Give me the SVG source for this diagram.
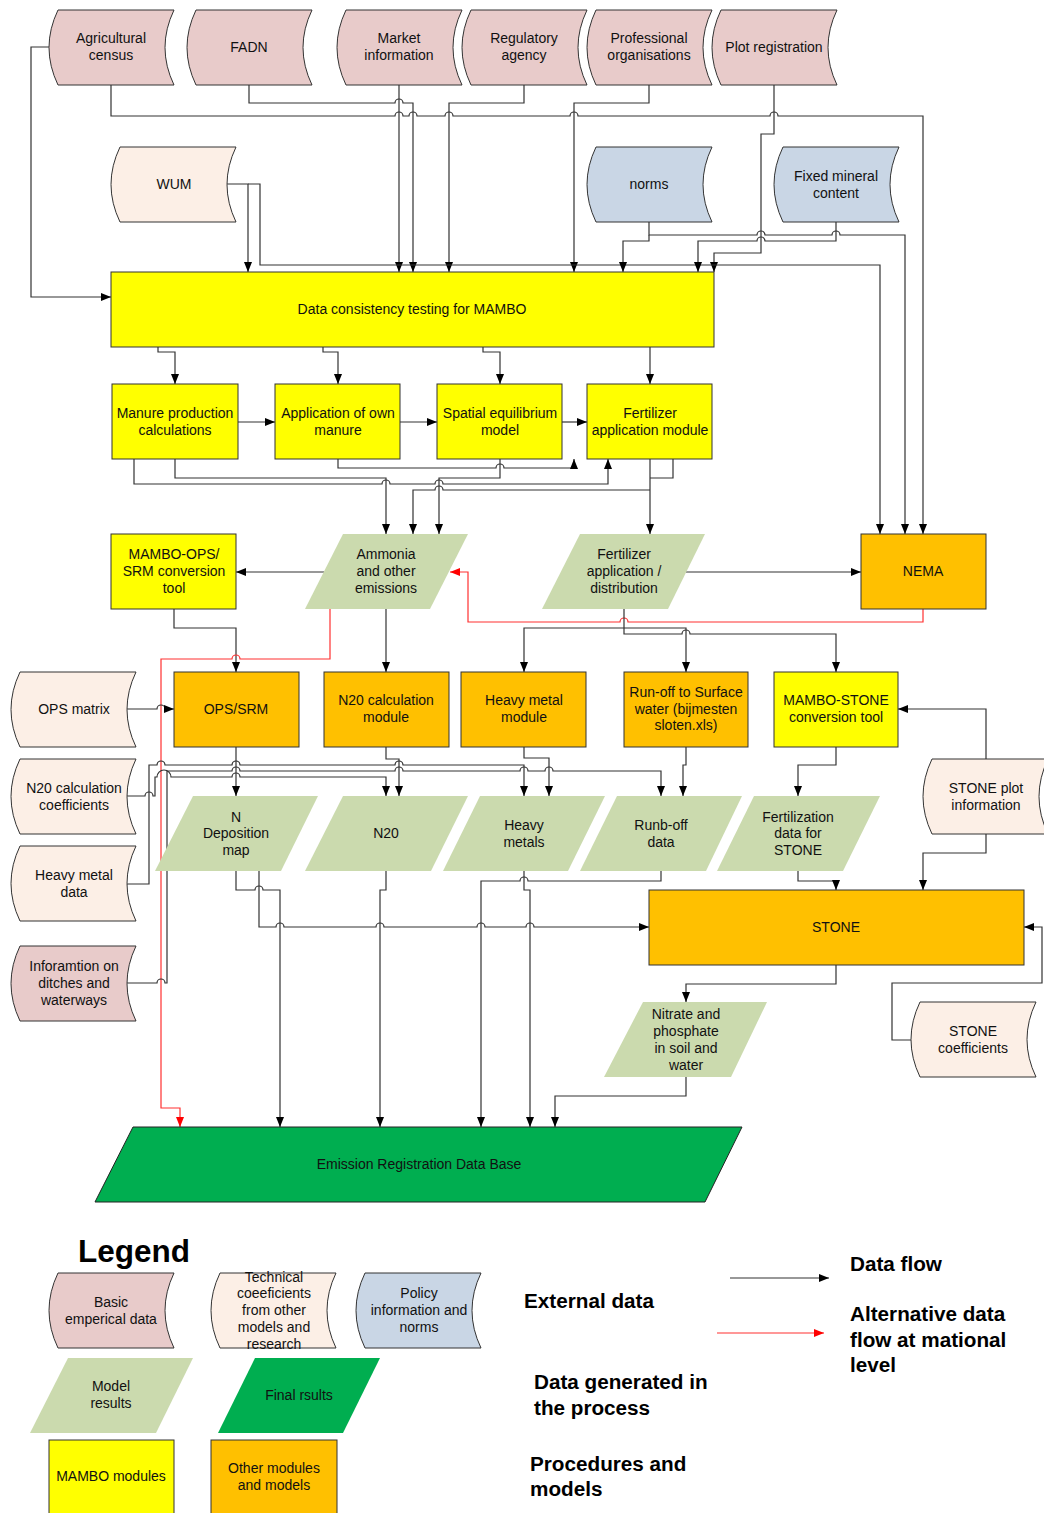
<svg xmlns="http://www.w3.org/2000/svg" width="1044" height="1513" viewBox="0 0 1044 1513">
<style>
.pink{fill:#e8cbca;stroke:#333;stroke-width:1}
.peach{fill:#fcefe6;stroke:#333;stroke-width:1}
.blue{fill:#c9d6e5;stroke:#333;stroke-width:1}
.yellow{fill:#ffff00;stroke:#333;stroke-width:1}
.orange{fill:#ffc000;stroke:#333;stroke-width:1}
.lgreen{fill:#cbdaae;stroke:none}
.dgreen{fill:#00ae50;stroke:#222;stroke-width:1}
text{font-family:"Liberation Sans",Arial,sans-serif;font-size:14px;fill:#111;text-anchor:middle}
text.b{font-weight:bold;text-anchor:start;font-size:20.7px;fill:#000}
.c{fill:none;stroke:#333;stroke-width:1.2}
.a{marker-end:url(#ah)}
.r{fill:none;stroke:#ff3030;stroke-width:1.2}
.ra{marker-end:url(#ahr)}
</style>
<defs>
<marker id="ah" markerUnits="userSpaceOnUse" markerWidth="10" markerHeight="10" refX="10" refY="5" orient="auto" viewBox="0 0 10 10"><path d="M0,1 L10,5 L0,9 z" fill="#000"/></marker>
<marker id="ahr" markerUnits="userSpaceOnUse" markerWidth="10" markerHeight="10" refX="10" refY="5" orient="auto" viewBox="0 0 10 10"><path d="M0,1 L10,5 L0,9 z" fill="#f00"/></marker>
</defs>
<rect width="1044" height="1513" fill="#fff"/>

<g id="connectors">
<path class="c a" d="M49,47 H31 V297 H111"/>
<path class="c a" d="M111,85 V116 H395 A4,4 0 0 1 403,116 H409 A4,4 0 0 1 417,116 H445 A4,4 0 0 1 453,116 H570 A4,4 0 0 1 578,116 H770 A4,4 0 0 1 778,116 H923 V534"/>
<path class="c a" d="M249,85 V103 H395 A4,4 0 0 1 403,103 H413 V272"/>
<path class="c a" d="M399,85 V272"/>
<path class="c a" d="M524,85 V103 H449 V272"/>
<path class="c a" d="M649,85 V103 H574 V272"/>
<path class="c a" d="M774,85 V134 H761 V253 H714 V272"/>
<path class="c a" d="M227,184 H248 V272"/>
<path class="c a" d="M248,184 H260 V265 H880 V534"/>
<path class="c a" d="M649,222 V235 H757 A4,4 0 0 1 765,235 H832 A4,4 0 0 1 840,235 H905 V534"/>
<path class="c a" d="M649,235 V241 H623 V272"/>
<path class="c a" d="M836,222 V241 H765 A4,4 0 0 0 757,241 H698 V272"/>

<path class="c a" d="M158,347 V352 H175 V384"/>
<path class="c a" d="M323,347 V352 H338 V384"/>
<path class="c a" d="M483,347 V352 H500 V384"/>
<path class="c a" d="M650,347 V384"/>
<path class="c a" d="M238,422 H275"/>
<path class="c a" d="M400,422 H437"/>
<path class="c a" d="M562,422 H587"/>

<path class="c a" d="M134,459 V484 H382 A4,4 0 0 1 390,484 H435 A4,4 0 0 1 443,484 H608 V459"/>
<path class="c a" d="M175,459 V478 H386 V534"/>
<path class="c a" d="M338,459 V468 H496 A4,4 0 0 1 504,468 H574 V459"/>
<path class="c a" d="M500,459 V478 H439 V534"/>
<path class="c" d="M673,459 V478 H650"/>
<path class="c a" d="M650,459 V534"/>
<path class="c a" d="M650,490 H443 A4,4 0 0 0 435,490 H413 V534"/>

<path class="c a" d="M324,572 H236"/>
<path class="c a" d="M686,572 H861"/>
<path class="c a" d="M174,609 V628 H236 V672"/>
<path class="c a" d="M386,609 V672"/>
<path class="r ra" d="M330,609 V659 H240 A4,4 0 0 0 232,659 H161 V1108 H180 V1127"/>
<path class="r ra" d="M923,609 V622 H628 A4,4 0 0 0 620,622 H468 V572 H450"/>
<path class="c a" d="M624,609 V634 H682 A4,4 0 0 1 690,634 H836 V672"/>
<path class="c a" d="M624,628 H524 V672"/>
<path class="c a" d="M624,628 H686 V672"/>

<path class="c a" d="M127,709 H157 A4,4 0 0 1 165,709 H174"/>
<path class="c a" d="M986,759 V709 H898"/>
<path class="c a" d="M986,834 V853 H923 V890"/>
<path class="c a" d="M836,747 V765 H798 V796"/>
<path class="c a" d="M798,871 V881 H836 V890"/>
<path class="c a" d="M686,747 V765 H683 V796"/>
<path class="c a" d="M524,747 V758 H549 V796"/>
<path class="c a" d="M386,747 V759 H399 V796"/>
<path class="c a" d="M236,747 V796"/>

<path class="c a" d="M127,884 H149 V765 H157 A4,4 0 0 1 165,765 H232 A4,4 0 0 1 240,765 H395 A4,4 0 0 1 403,765 H524 V796"/>
<path class="c a" d="M127,796 H145 A4,4 0 0 1 153,796 H155 V777 H157 A7,7 0 0 1 171,777 H232 A4,4 0 0 1 240,777 H386 V796"/>
<path class="c a" d="M127,983 H157 A4,4 0 0 1 165,983 H167 V771 H232 A4,4 0 0 1 240,771 H395 A4,4 0 0 1 403,771 H520 A4,4 0 0 1 528,771 H545 A4,4 0 0 1 553,771 H661 V796"/>

<path class="c a" d="M236,871 V890 H255 A4,4 0 0 1 263,890 H280 V1127"/>
<path class="c a" d="M259,871 V927 H276 A4,4 0 0 1 284,927 H376 A4,4 0 0 1 384,927 H477 A4,4 0 0 1 485,927 H526 A4,4 0 0 1 534,927 H649"/>
<path class="c a" d="M386,871 V890 H380 V1127"/>
<path class="c a" d="M524,871 V890 H530 V1127"/>
<path class="c a" d="M661,871 V881 H528 A4,4 0 0 0 520,881 H481 V1127"/>
<path class="c a" d="M836,965 V984 H686 V1002"/>
<path class="c a" d="M686,1077 V1096 H555 V1127"/>
<path class="c a" d="M911,1040 H892 V983 H1042 V927 H1024"/>

<path class="c a" d="M730,1278 H829"/>
<path class="r ra" d="M717,1333 H824"/>
</g>

<g id="agricultural-census"><path class="pink" d="M58,10 H174 Q156,47.5 174,85 H58 Q40,47.5 58,10 Z"/><text x="111" y="43">Agricultural</text><text x="111" y="60">census</text></g>
<g id="fadn"><path class="pink" d="M196,10 H312 Q294,47.5 312,85 H196 Q178,47.5 196,10 Z"/><text x="249" y="52">FADN</text></g>
<g id="market-information"><path class="pink" d="M346,10 H462 Q444,47.5 462,85 H346 Q328,47.5 346,10 Z"/><text x="399" y="43">Market</text><text x="399" y="60">information</text></g>
<g id="regulatory-agency"><path class="pink" d="M471,10 H587 Q569,47.5 587,85 H471 Q453,47.5 471,10 Z"/><text x="524" y="43">Regulatory</text><text x="524" y="60">agency</text></g>
<g id="professional-organisations"><path class="pink" d="M596,10 H712 Q694,47.5 712,85 H596 Q578,47.5 596,10 Z"/><text x="649" y="43">Professional</text><text x="649" y="60">organisations</text></g>
<g id="plot-registration"><path class="pink" d="M721,10 H837 Q819,47.5 837,85 H721 Q703,47.5 721,10 Z"/><text x="774" y="52">Plot registration</text></g>

<g id="wum"><path class="peach" d="M120,147 H236 Q218,184.5 236,222 H120 Q102,184.5 120,147 Z"/><text x="174" y="189">WUM</text></g>
<g id="norms"><path class="blue" d="M596,147 H712 Q694,184.5 712,222 H596 Q578,184.5 596,147 Z"/><text x="649" y="189">norms</text></g>
<g id="fixed-mineral-content"><path class="blue" d="M783,147 H899 Q881,184.5 899,222 H783 Q765,184.5 783,147 Z"/><text x="836" y="181">Fixed mineral</text><text x="836" y="198">content</text></g>

<g id="data-consistency"><rect class="yellow" x="111" y="272" width="603" height="75"/><text x="412" y="314">Data consistency testing for MAMBO</text></g>
<g id="manure-production"><rect class="yellow" x="112" y="384" width="126" height="75"/><text x="175" y="418">Manure production</text><text x="175" y="435">calculations</text></g>
<g id="application-own-manure"><rect class="yellow" x="275" y="384" width="125" height="75"/><text x="338" y="418">Application of own</text><text x="338" y="435">manure</text></g>
<g id="spatial-equilibrium"><rect class="yellow" x="437" y="384" width="125" height="75"/><text x="500" y="418">Spatial equilibrium</text><text x="500" y="435">model</text></g>
<g id="fertilizer-module"><rect class="yellow" x="587" y="384" width="125" height="75"/><text x="650" y="418">Fertilizer</text><text x="650" y="435">application module</text></g>

<g id="mambo-ops-srm"><rect class="yellow" x="111" y="534" width="125" height="75"/><text x="174" y="559">MAMBO-OPS/</text><text x="174" y="576">SRM conversion</text><text x="174" y="593">tool</text></g>
<g id="ammonia"><polygon class="lgreen" points="343,534 468,534 430,609 305,609"/><text x="386" y="559">Ammonia</text><text x="386" y="576">and other</text><text x="386" y="593">emissions</text></g>
<g id="fertilizer-distribution"><polygon class="lgreen" points="580,534 705,534 668,609 542,609"/><text x="624" y="559">Fertilizer</text><text x="624" y="576">application /</text><text x="624" y="593">distribution</text></g>
<g id="nema"><rect class="orange" x="861" y="534" width="125" height="75"/><text x="923" y="576">NEMA</text></g>

<g id="ops-matrix"><path class="peach" d="M20,672 H136 Q118,709.5 136,747 H20 Q2,709.5 20,672 Z"/><text x="74" y="714">OPS matrix</text></g>
<g id="ops-srm"><rect class="orange" x="174" y="672" width="125" height="75"/><text x="236" y="714">OPS/SRM</text></g>
<g id="n20-module"><rect class="orange" x="324" y="672" width="125" height="75"/><text x="386" y="705">N20 calculation</text><text x="386" y="722">module</text></g>
<g id="heavy-metal-module"><rect class="orange" x="461" y="672" width="125" height="75"/><text x="524" y="705">Heavy metal</text><text x="524" y="722">module</text></g>
<g id="runoff-module"><rect class="orange" x="624" y="672" width="124" height="75"/><text x="686" y="697">Run-off to Surface</text><text x="686" y="714">water (bijmesten</text><text x="686" y="730">sloten.xls)</text></g>
<g id="mambo-stone"><rect class="yellow" x="774" y="672" width="124" height="75"/><text x="836" y="705">MAMBO-STONE</text><text x="836" y="722">conversion tool</text></g>

<g id="n20-coefficients"><path class="peach" d="M20,759 H136 Q118,796.5 136,834 H20 Q2,796.5 20,759 Z"/><text x="74" y="793">N20 calculation</text><text x="74" y="810">coefficients</text></g>
<g id="heavy-metal-data"><path class="peach" d="M20,846 H136 Q118,883.5 136,921 H20 Q2,883.5 20,846 Z"/><text x="74" y="880">Heavy metal</text><text x="74" y="897">data</text></g>
<g id="ditches"><path class="pink" d="M20,946 H136 Q118,983.5 136,1021 H20 Q2,983.5 20,946 Z"/><text x="74" y="971">Inforamtion on</text><text x="74" y="988">ditches and</text><text x="74" y="1005">waterways</text></g>

<g id="n-deposition"><polygon class="lgreen" points="193,796 318,796 281,871 155,871"/><text x="236" y="822">N</text><text x="236" y="838">Deposition</text><text x="236" y="855">map</text></g>
<g id="n20"><polygon class="lgreen" points="343,796 468,796 431,871 305,871"/><text x="386" y="838">N20</text></g>
<g id="heavy-metals"><polygon class="lgreen" points="480,796 605,796 568,871 443,871"/><text x="524" y="830">Heavy</text><text x="524" y="847">metals</text></g>
<g id="runoff-data"><polygon class="lgreen" points="617,796 742,796 706,871 580,871"/><text x="661" y="830">Runb-off</text><text x="661" y="847">data</text></g>
<g id="fertilization-data"><polygon class="lgreen" points="754,796 880,796 843,871 717,871"/><text x="798" y="822">Fertilization</text><text x="798" y="838">data for</text><text x="798" y="855">STONE</text></g>
<g id="stone-plot"><path class="peach" d="M932,759 H1048 Q1030,796.5 1048,834 H932 Q914,796.5 932,759 Z"/><text x="986" y="793">STONE plot</text><text x="986" y="810">information</text></g>

<g id="stone"><rect class="orange" x="649" y="890" width="375" height="75"/><text x="836" y="932">STONE</text></g>
<g id="nitrate"><polygon class="lgreen" points="643,1002 767,1002 731,1077 604,1077"/><text x="686" y="1019">Nitrate and</text><text x="686" y="1036">phosphate</text><text x="686" y="1053">in soil and</text><text x="686" y="1070">water</text></g>
<g id="stone-coefficients"><path class="peach" d="M920,1002 H1036 Q1018,1039.5 1036,1077 H920 Q902,1039.5 920,1002 Z"/><text x="973" y="1036">STONE</text><text x="973" y="1053">coefficients</text></g>
<g id="erdb"><polygon class="dgreen" points="133,1127 742,1127 705,1202 95,1202"/><text x="419" y="1169">Emission Registration Data Base</text></g>

<g id="legend">
<text x="78" y="1262" style="font-weight:bold;font-size:31.5px;text-anchor:start;fill:#000">Legend</text>
<path class="pink" d="M58,1273 H174 Q156,1310.5 174,1348 H58 Q40,1310.5 58,1273 Z"/><text x="111" y="1307">Basic</text><text x="111" y="1324">emperical data</text>
<path class="peach" d="M220,1273 H336 Q318,1310.5 336,1348 H220 Q202,1310.5 220,1273 Z"/><text x="274" y="1282">Technical</text><text x="274" y="1298">coeeficients</text><text x="274" y="1315">from other</text><text x="274" y="1332">models and</text><text x="274" y="1349">research</text>
<path class="blue" d="M365,1273 H481 Q463,1310.5 481,1348 H365 Q347,1310.5 365,1273 Z"/><text x="419" y="1298">Policy</text><text x="419" y="1315">information and</text><text x="419" y="1332">norms</text>
<polygon class="lgreen" points="68,1358 193,1358 156,1433 30,1433"/><text x="111" y="1391">Model</text><text x="111" y="1408">results</text>
<polygon fill="#00ae50" points="255,1358 380,1358 343,1433 218,1433"/><text x="299" y="1400">Final rsults</text>
<rect class="yellow" x="49" y="1440" width="125" height="80"/><text x="111" y="1481">MAMBO modules</text>
<rect class="orange" x="211" y="1440" width="126" height="80"/><text x="274" y="1473">Other modules</text><text x="274" y="1490">and models</text>
<text class="b" x="850" y="1271">Data flow</text>
<text class="b" x="524" y="1308">External data</text>
<text class="b" x="850" y="1321">Alternative data</text>
<text class="b" x="850" y="1347">flow at mational</text>
<text class="b" x="850" y="1372">level</text>
<text class="b" x="534" y="1389">Data generated in</text>
<text class="b" x="534" y="1415">the process</text>
<text class="b" x="530" y="1471">Procedures and</text>
<text class="b" x="530" y="1496">models</text>
</g>
</svg>
